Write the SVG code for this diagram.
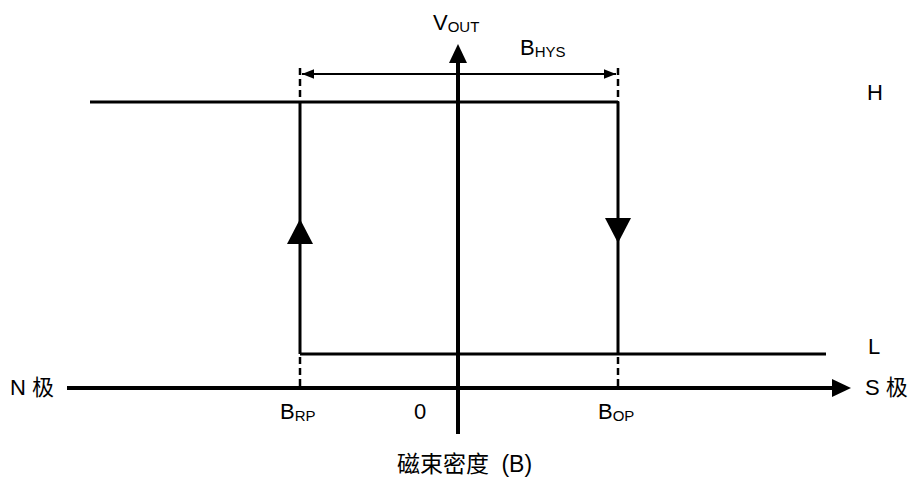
<svg xmlns="http://www.w3.org/2000/svg" width="912" height="480" viewBox="0 0 912 480">
<style>
.t{font-family:"Liberation Sans","Noto Sans CJK SC",Arial,sans-serif;font-size:22px;fill:#000}
.s{font-size:15px}
.ln{stroke:#000;stroke-width:3;fill:none}
.ax{stroke:#000;stroke-width:4;fill:none}
.d{stroke:#000;stroke-width:2.5;stroke-dasharray:7,4;fill:none}
.hy{stroke:#000;stroke-width:2;fill:none}
</style>
<defs>
<marker id="hs" viewBox="0 0 10 10" refX="10" refY="5" markerWidth="6" markerHeight="6" orient="auto-start-reverse" markerUnits="strokeWidth">
<path d="M0,1 L10,5 L0,9 z" fill="#000"/>
</marker>
</defs>
<g id="connectors">
<line class="ax" x1="67" y1="388" x2="832" y2="388"/>
<polygon points="832,379 851,388 832,397" fill="#000"/>
<line class="ax" x1="458" y1="434" x2="458" y2="63"/>
<polygon points="449,63 458,44 467,63" fill="#000"/>
<line class="ln" x1="90" y1="102" x2="618" y2="102"/>
<line class="ln" x1="300" y1="354" x2="826" y2="354"/>
<line class="ln" x1="300" y1="354" x2="300" y2="102"/>
<line class="ln" x1="618" y1="102" x2="618" y2="354"/>
<polygon points="287,244 300,219 313,244" fill="#000"/>
<polygon points="605,218 618,243 631,218" fill="#000"/>
<line class="d" x1="300" y1="68" x2="300" y2="102"/>
<line class="d" x1="618" y1="68" x2="618" y2="102"/>
<line class="d" x1="300" y1="357" x2="300" y2="386"/>
<line class="d" x1="618" y1="357" x2="618" y2="386"/>
<line class="hy" x1="302" y1="74" x2="616" y2="74" marker-start="url(#hs)" marker-end="url(#hs)"/>
</g>
<g id="labels">
<text class="t" x="433" y="30">V<tspan class="s" dy="2">OUT</tspan></text>
<text class="t" x="520" y="55">B<tspan class="s" dy="2">HYS</tspan></text>
<text class="t" x="867" y="100">H</text>
<text class="t" x="868" y="354">L</text>
<text class="t" x="10" y="395">N 极</text>
<text class="t" x="865" y="395">S 极</text>
<text class="t" x="280" y="419">B<tspan class="s" dy="2">RP</tspan></text>
<text class="t" x="414" y="419">0</text>
<text class="t" x="598" y="419">B<tspan class="s" dy="2">OP</tspan></text>
<text class="t" x="397" y="472" style="font-size:23px">磁束密度 <tspan dx="6">(B)</tspan></text>
</g>
</svg>
